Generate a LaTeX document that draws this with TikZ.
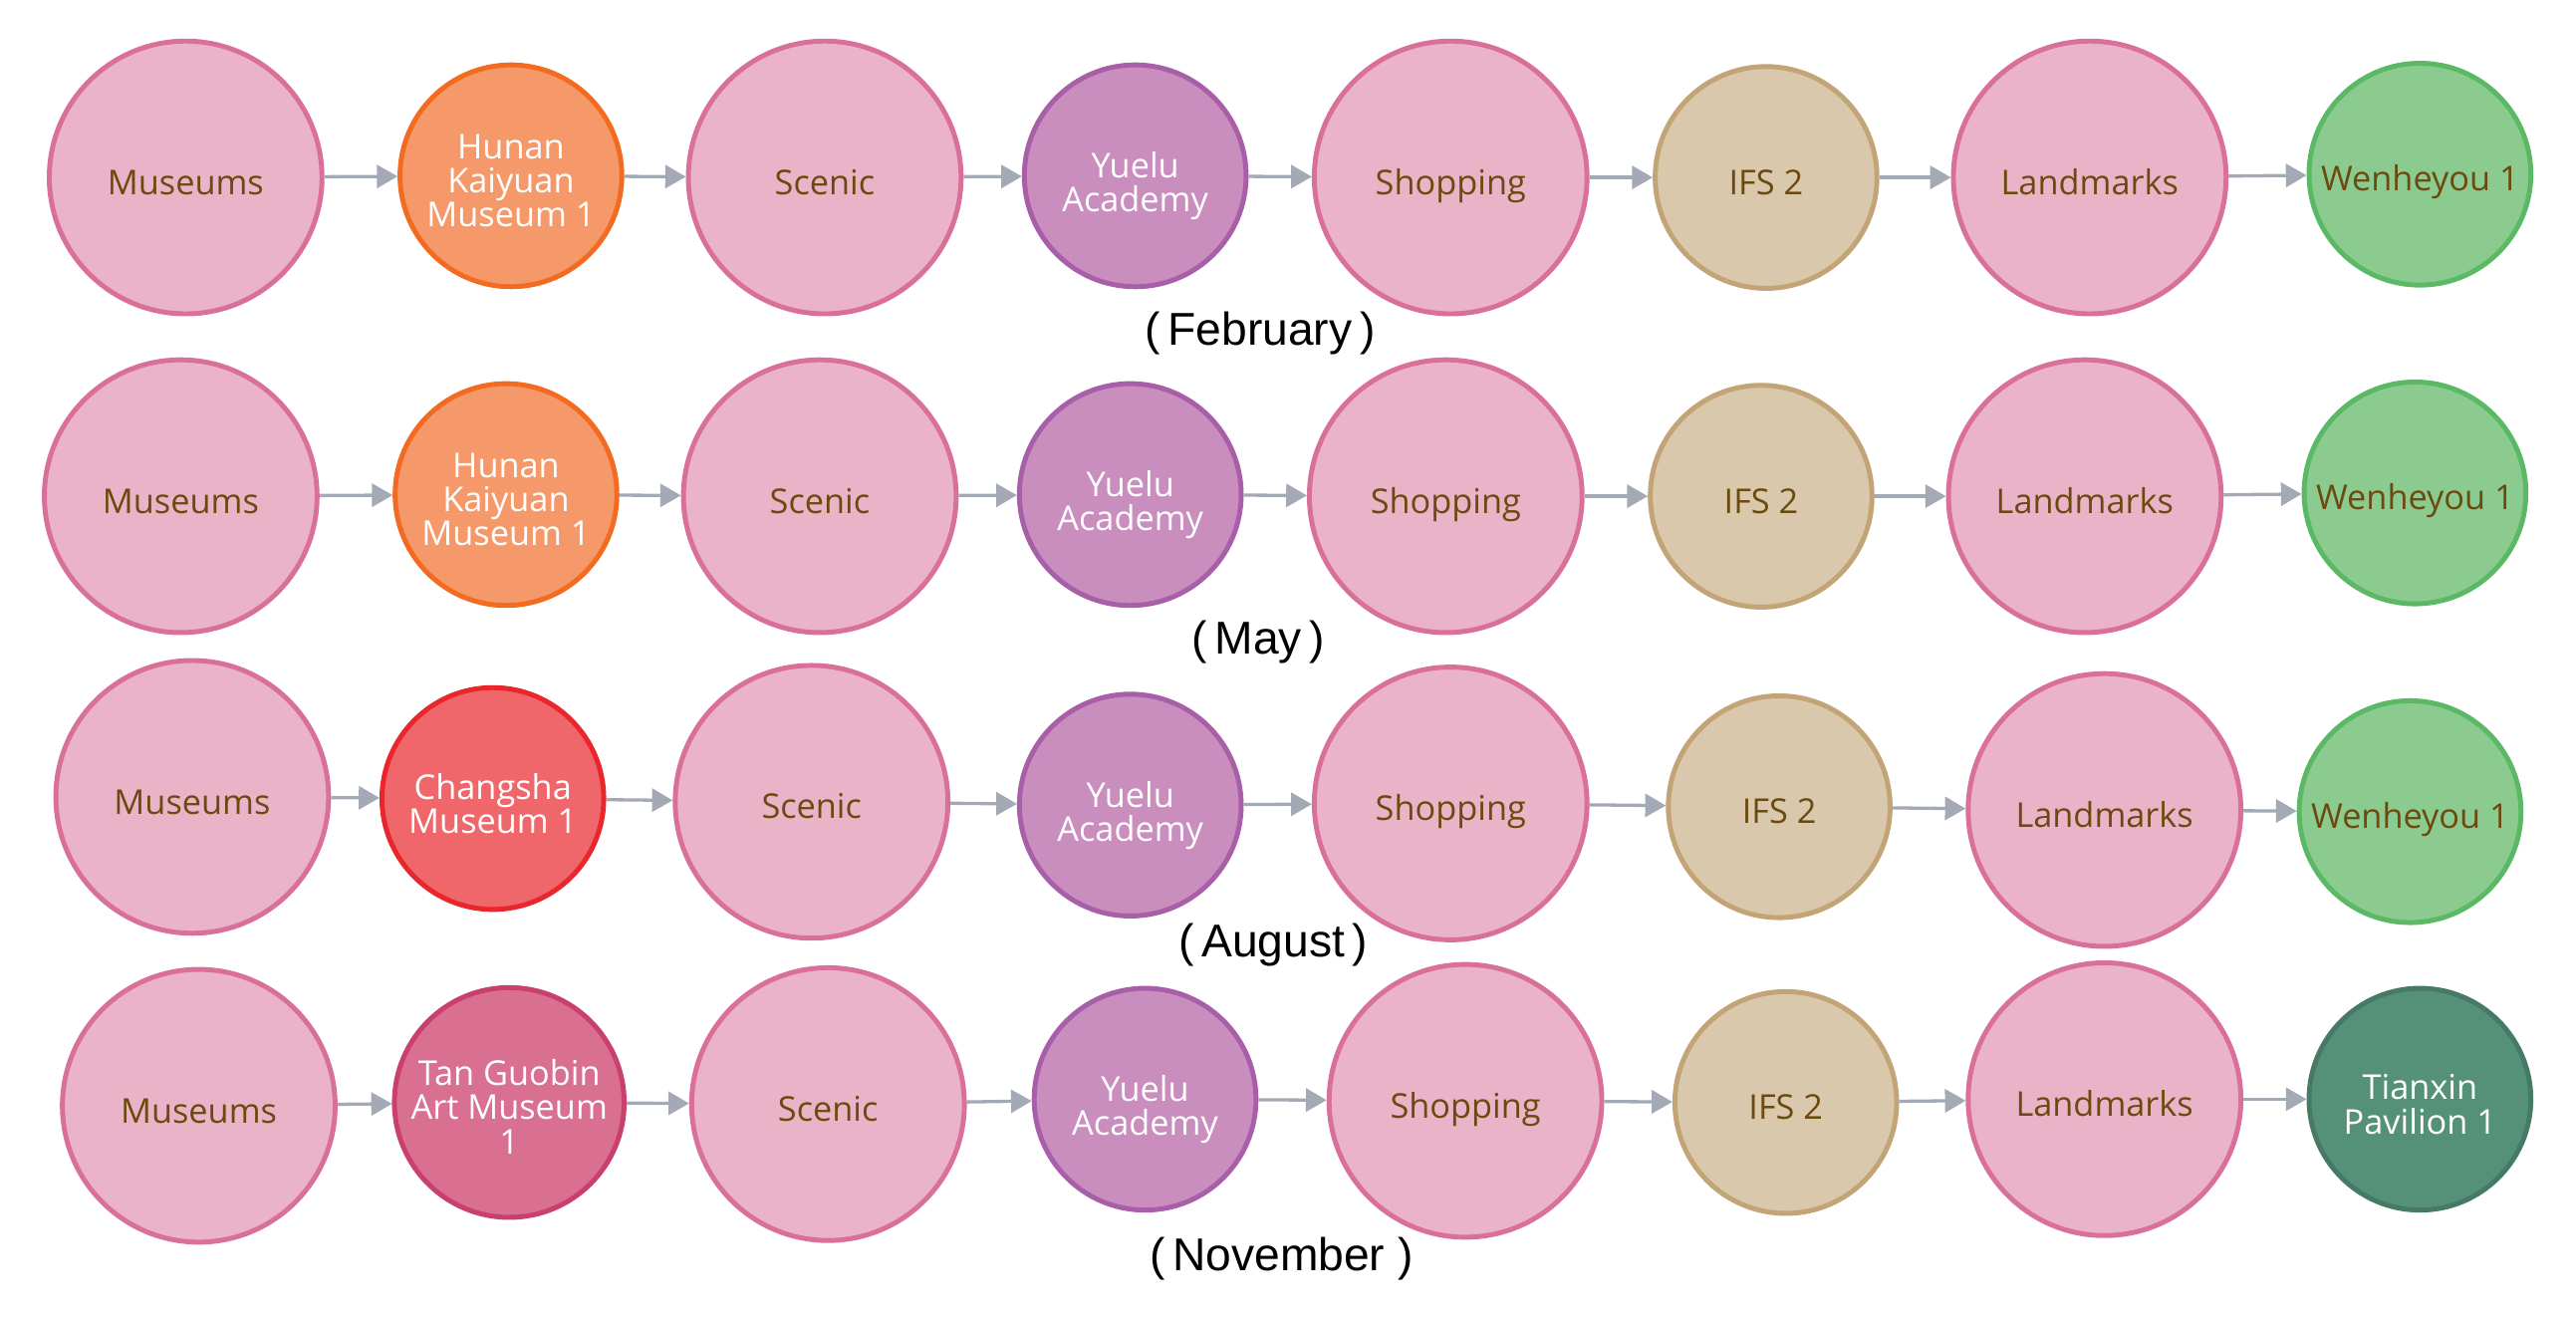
\documentclass[tikz,border=0pt]{standalone}
\usepackage{fontspec}
\setmainfont{Open Sans}
\newfontfamily\labfont{Liberation Sans}
\usetikzlibrary{arrows.meta}
\definecolor{pinkF}{HTML}{EBB3C8}
\definecolor{pinkD}{HTML}{D9709A}
\definecolor{orgF}{HTML}{F5996A}
\definecolor{orgD}{HTML}{F26B21}
\definecolor{purF}{HTML}{C98DBE}
\definecolor{purD}{HTML}{A85FA8}
\definecolor{begF}{HTML}{D9C8AC}
\definecolor{begD}{HTML}{C2A476}
\definecolor{grnF}{HTML}{8BCB90}
\definecolor{grnD}{HTML}{5BB865}
\definecolor{redF}{HTML}{EF676A}
\definecolor{redD}{HTML}{E8262B}
\definecolor{rosF}{HTML}{D96F91}
\definecolor{rosD}{HTML}{C9406C}
\definecolor{tealF}{HTML}{559078}
\definecolor{tealD}{HTML}{477A66}
\definecolor{txtB}{HTML}{6B4A10}
\definecolor{arrG}{HTML}{A3A9B5}
\tikzset{
  base/.style={circle, line width=1.5pt, inner sep=0pt, align=center,
    text depth=2.5pt, text height=12.9pt,
    font=\fontsize{10.4}{10.4}\selectfont},
  lineA/.style={text height=12.9pt},
  lineB/.style={text height=23.6pt},
  lineC/.style={text height=33.7pt},
  big/.style={base, minimum size=83pt, fill=pinkF, draw=pinkD, text=txtB},
  sm/.style={base, minimum size=67.5pt},
  orgN/.style={sm, lineC, fill=orgF, draw=orgD, text=white},
  purN/.style={sm, text height=24.5pt, fill=purF, draw=purD, text=white},
  begN/.style={sm, fill=begF, draw=begD, text=txtB},
  grnN/.style={sm, fill=grnF, draw=grnD, text=txtB},
  redN/.style={sm, lineB, fill=redF, draw=redD, text=white},
  rosN/.style={sm, lineC, fill=rosF, draw=rosD, text=white},
  tealN/.style={sm, lineB, fill=tealF, draw=tealD, text=white},
  conn/.style={draw=arrG, line width=1pt, -{Triangle[length=6.3pt,width=7pt]}},
  month/.style={font=\labfont\fontsize{14}{14}\selectfont, text=black}
}
\begin{document}
\begin{tikzpicture}[x=0.5pt,y=-0.5pt]
\useasboundingbox (0,0) rectangle (1568,804);
% Row 1
\node[big]  (a1) at (113,108) {Museums};
\node[orgN] (a2) at (311,107) {Hunan\\Kaiyuan\\Museum 1};
\node[big]  (a3) at (502,108) {Scenic};
\node[purN] (a4) at (691,107) {Yuelu\\Academy};
\node[big]  (a5) at (883,108) {Shopping};
\node[begN] (a6) at (1075,108) {IFS 2};
\node[big]  (a7) at (1272,108) {Landmarks};
\node[grnN] (a8) at (1473,106) {Wenheyou 1};
\node[month] (m1) at (767,203) {(\,February\,)};
% Row 2
\node[big]  (b1) at (110,302) {Museums};
\node[orgN] (b2) at (308,301) {Hunan\\Kaiyuan\\Museum 1};
\node[big]  (b3) at (499,302) {Scenic};
\node[purN] (b4) at (688,301) {Yuelu\\Academy};
\node[big]  (b5) at (880,302) {Shopping};
\node[begN] (b6) at (1072,302) {IFS 2};
\node[big]  (b7) at (1269,302) {Landmarks};
\node[grnN] (b8) at (1470,300) {Wenheyou 1};
\node[month] (m2) at (766,391) {(\,May\,)};
% Row 3
\node[big]  (c1) at (117,485) {Museums};
\node[redN] (c2) at (300,486) {Changsha\\Museum 1};
\node[big]  (c3) at (494,488) {Scenic};
\node[purN] (c4) at (688,490) {Yuelu\\Academy};
\node[big]  (c5) at (883,489) {Shopping};
\node[begN] (c6) at (1083,491) {IFS 2};
\node[big]  (c7) at (1281,493) {Landmarks};
\node[grnN] (c8) at (1467,494) {Wenheyou 1};
\node[month] (m3) at (775,575) {(\,August\,)};
% Row 4
\node[big]  (d1) at (121,673) {Museums};
\node[rosN] (d2) at (310,671) {Tan Guobin\\Art Museum\\1};
\node[big]  (d3) at (504,672) {Scenic};
\node[purN] (d4) at (697,669) {Yuelu\\Academy};
\node[big]  (d5) at (892,670) {Shopping};
\node[begN] (d6) at (1087,671) {IFS 2};
\node[big]  (d7) at (1281,669) {Landmarks};
\node[tealN] (d8) at (1473,669) {Tianxin\\Pavilion 1};
\node[month] (m4) at (780,766) {(\,November\ )};
% Connectors
\foreach \r in {a,b,c,d}{
  \draw[conn] (\r1) -- (\r2);
  \draw[conn] (\r2) -- (\r3);
  \draw[conn] (\r3) -- (\r4);
  \draw[conn] (\r4) -- (\r5);
  \draw[conn] (\r5) -- (\r6);
  \draw[conn] (\r6) -- (\r7);
  \draw[conn] (\r7) -- (\r8);
}
\end{tikzpicture}
\end{document}
